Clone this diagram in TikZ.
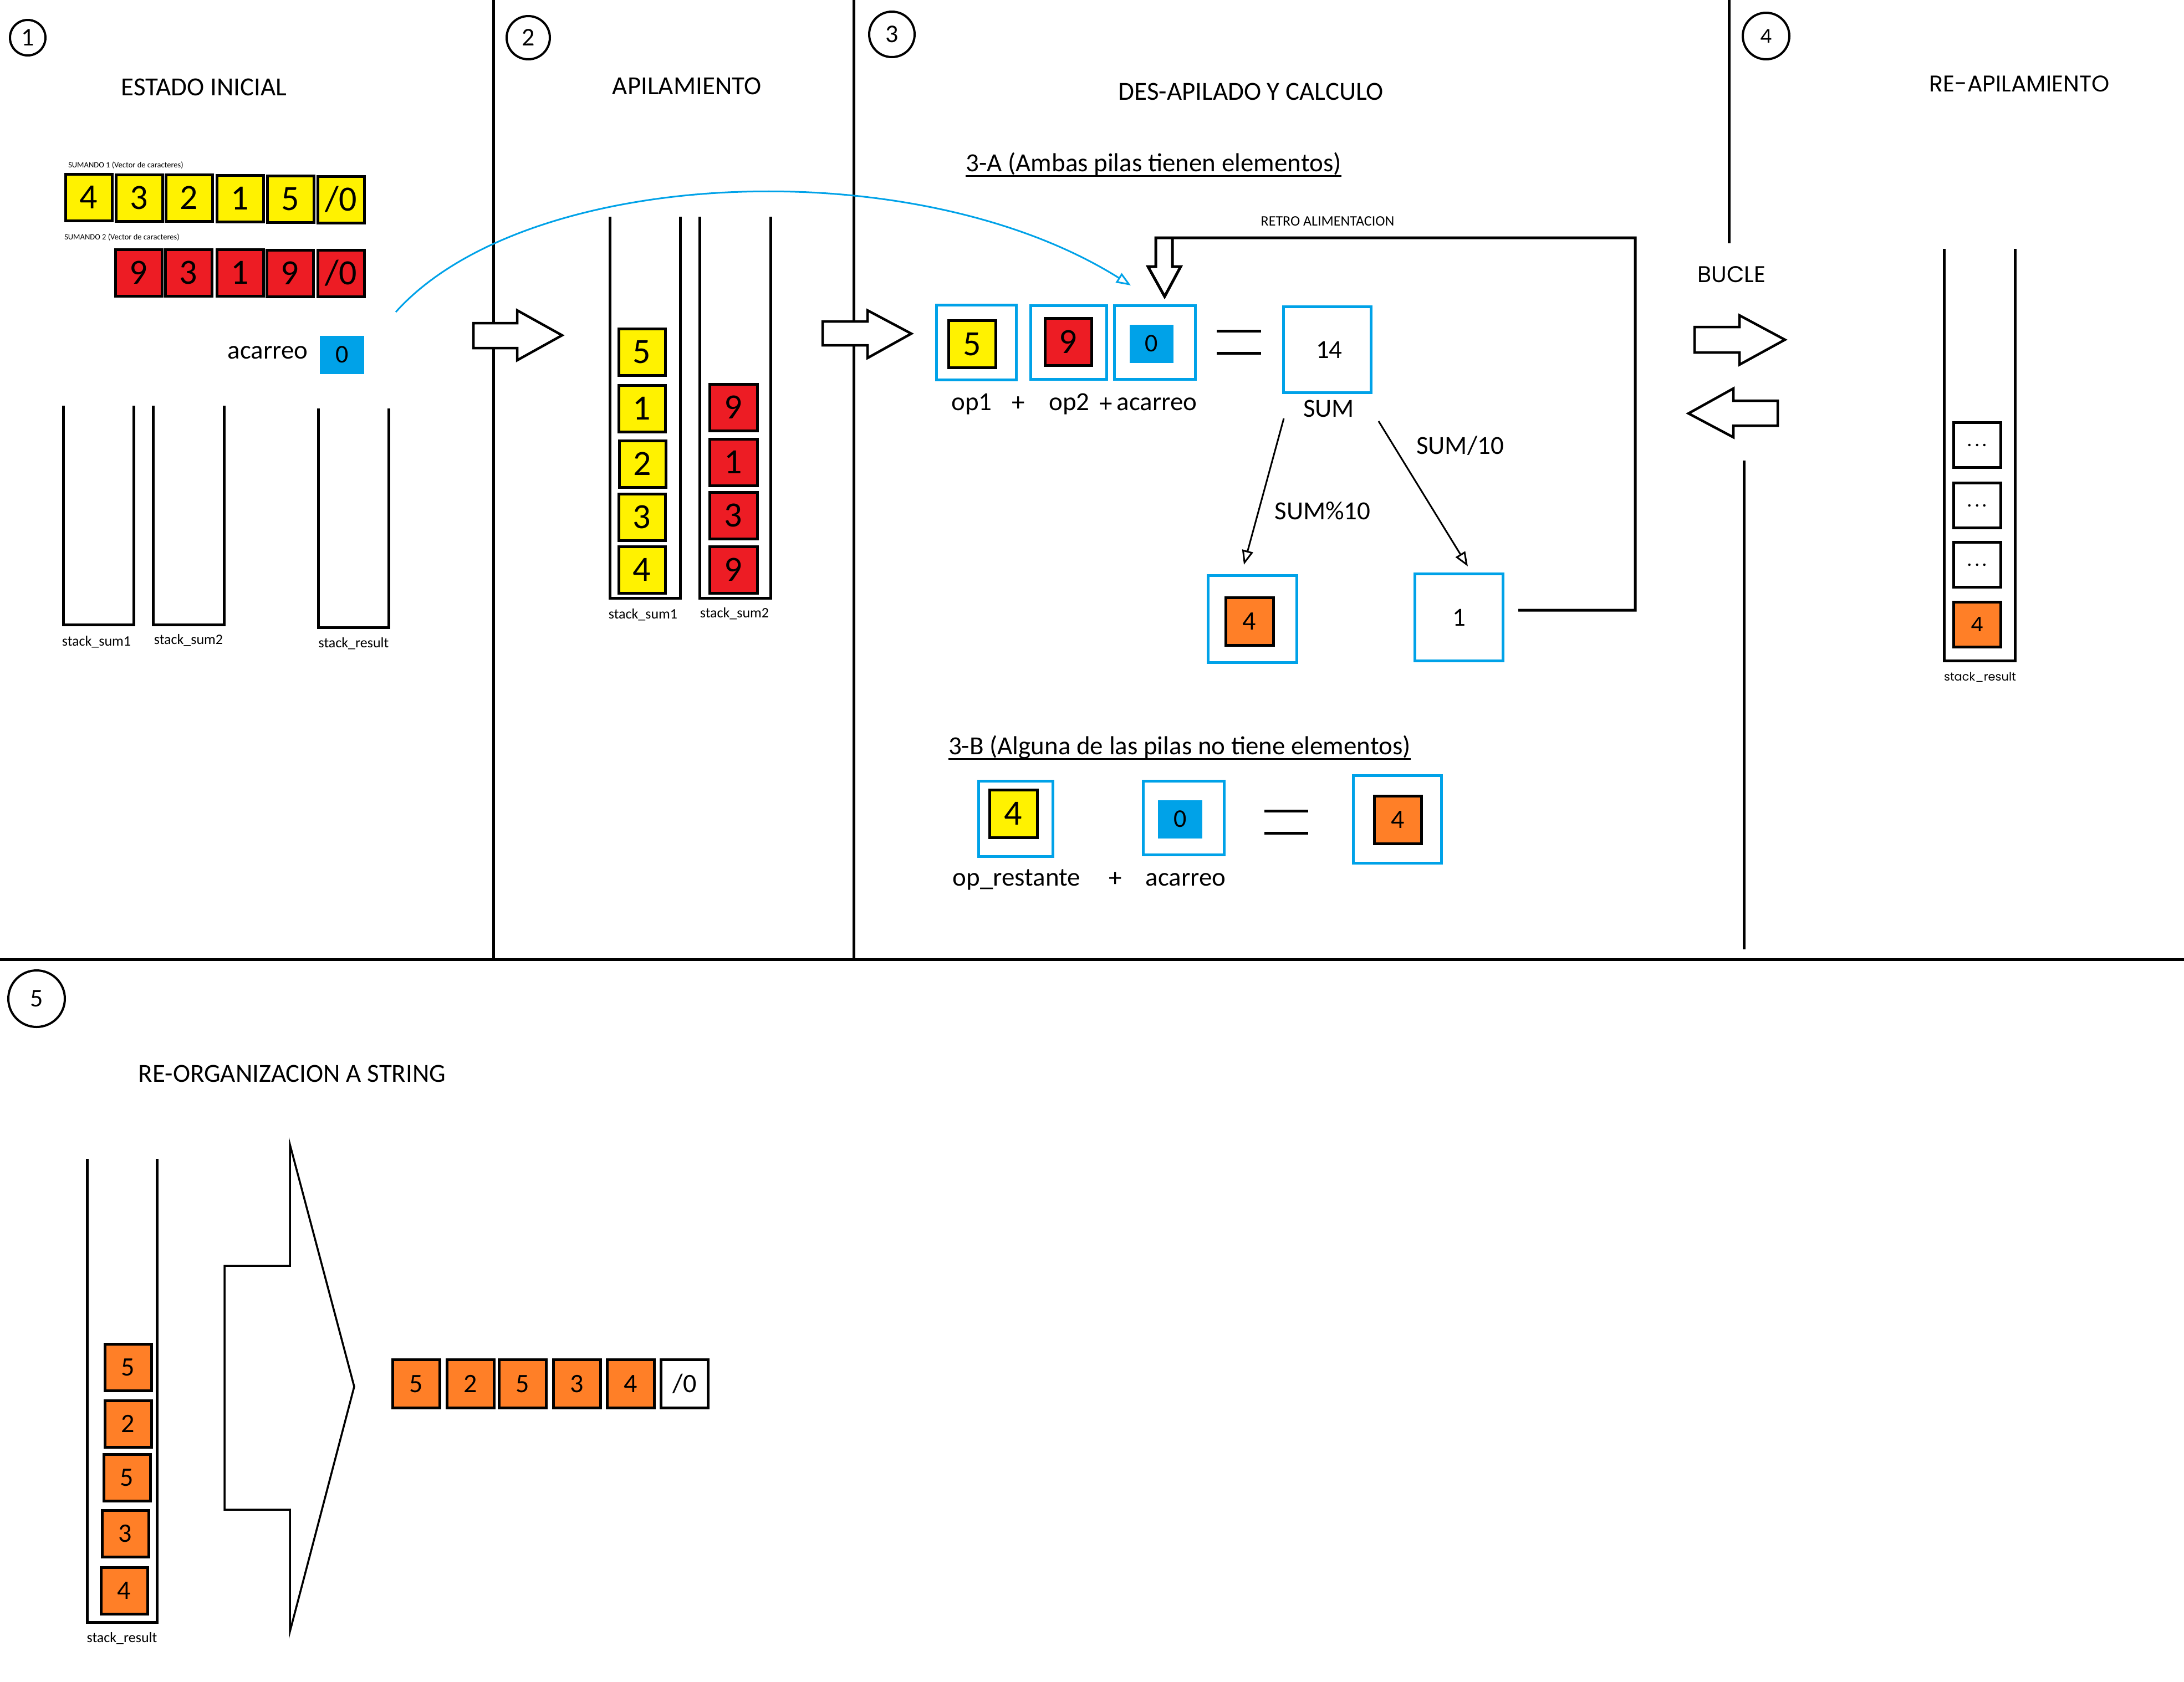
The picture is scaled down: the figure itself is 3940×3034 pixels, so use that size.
\documentclass[tikz,border=0pt]{standalone}
\usepackage{fontspec}
\setmainfont{Carlito}
\newfontfamily\gothic{Poppins}
\usepackage{tikz}
\usetikzlibrary{arrows.meta}

\definecolor{pyellow}{HTML}{FFF200}
\definecolor{pred}{HTML}{ED1C24}
\definecolor{porange}{HTML}{FF7F27}
\definecolor{pblue}{HTML}{00A2E8}

\tikzset{
  txt/.style={inner sep=0pt, font=\fontsize{47}{56}\selectfont},
  lbl/.style={inner sep=0pt, font=\fontsize{26}{30}\selectfont},
  mini/.style={inner sep=0pt, font=\fontsize{14.5}{17}\selectfont},
  gtxt/.style={inner sep=0pt, font=\gothic\fontsize{41}{48}\selectfont},
  num/.style={draw, circle, line width=4pt, inner sep=0pt, font=\fontsize{46}{55}\selectfont},
  cell/.style={draw, line width=5pt, minimum width=84pt, minimum height=84pt, inner sep=0pt, font=\fontsize{48}{56}\selectfont},
  hand/.style={cell, font=\fontsize{64}{74}\selectfont},
  yel/.style={hand, fill=pyellow},
  rd/.style={hand, fill=pred},
  org/.style={cell, fill=porange},
  wht/.style={cell, fill=white},
  carry/.style={fill=pblue, minimum width=80pt, minimum height=69pt, inner sep=0pt, font=\fontsize{46}{55}\selectfont},
  holder/.style={draw=pblue, line width=5pt, inner sep=0pt},
  wall/.style={line width=5pt},
  hollow/.style={draw, fill=white, line width=4.5pt, line join=miter},
  pointer/.style={line width=3pt, -{Triangle[open,length=26pt,width=20pt]}},
  slot/.style={cell, minimum width=85pt, minimum height=81pt, font=\gothic\fontsize{36}{42}\selectfont}
}

\begin{document}
\begin{tikzpicture}[x=1pt, y=-1pt]
  \useasboundingbox (0,0) rectangle (3940,3034);
  \fill[white] (0,0) rectangle (3940,3034);

  \draw[wall] (890,0) -- (890,1731);
  \draw[wall] (1540,0) -- (1540,1731);
  \draw[wall] (3119,0) -- (3119,439);
  \draw[wall] (3146,831) -- (3146,1713);
  \draw[wall] (0,1731) -- (3940,1731);

  \node[num, minimum size=64pt] (n1) at (50,68) {1};
  \node[txt] (t1) at (368,157) {ESTADO INICIAL};
  \node[mini] (v1) at (227,298) {SUMANDO 1 (Vector de caracteres)};
  \node[yel] (a1) at (160,356) {4};
  \node[yel] (a2) at (251,357) {3};
  \node[yel] (a3) at (341,357) {2};
  \node[yel] (a4) at (433,358) {1};
  \node[yel] (a5) at (524,359) {5};
  \node[yel] (a6) at (615,360) {/0};
  \node[mini] (v2) at (220,428) {SUMANDO 2 (Vector de caracteres)};
  \node[rd] (b1) at (250,492) {9};
  \node[rd] (b2) at (340,492) {3};
  \node[rd] (b3) at (433,492) {1};
  \node[rd] (b4) at (523,493) {9};
  \node[rd] (b5) at (615,493) {/0};
  \node[txt] (acl) at (483,636) {acarreo};
  \node[carry] (c0) at (617,640) {0};
  \draw[wall] (114,732) |- (241,1127) -- (241,732);
  \draw[wall] (276,732) |- (404,1127) -- (404,732);
  \draw[wall] (574,737) |- (701,1132) -- (701,737);
  \node[lbl] (s1) at (174,1158) {stack\_sum1};
  \node[lbl] (s2) at (340,1155) {stack\_sum2};
  \node[lbl] (s3) at (638,1161) {stack\_result};

  \draw[hollow] (854,583) -- (933,583) -- (933,560) -- (1014,605) -- (933,650) -- (933,628) -- (854,628) -- cycle;

  \node[num, minimum size=78pt] (n2) at (953,68) {2};
  \node[txt] (t2) at (1239,155) {APILAMIENTO};
  \draw[wall] (1100,391) |- (1227,1079) -- (1227,391);
  \draw[wall] (1262,391) |- (1390,1079) -- (1390,391);
  \node[yel] (p1) at (1158,635) {5};
  \node[yel] (p2) at (1158,737) {1};
  \node[yel] (p3) at (1159,837) {2};
  \node[yel] (p4) at (1158,933) {3};
  \node[yel] (p5) at (1158,1028) {4};
  \node[rd, minimum width=86pt] (q1) at (1323,735) {9};
  \node[rd, minimum width=86pt] (q2) at (1323,834) {1};
  \node[rd, minimum width=86pt] (q3) at (1323,930) {3};
  \node[rd, minimum width=86pt] (q4) at (1323,1028) {9};
  \node[lbl] (s4) at (1160,1109) {stack\_sum1};
  \node[lbl] (s5) at (1325,1107) {stack\_sum2};

  \draw[hollow] (1484,580) -- (1565,580) -- (1565,560) -- (1644,602) -- (1565,646) -- (1565,623) -- (1484,623) -- cycle;

  \node[num, minimum size=82pt] (n3) at (1609,62) {3};
  \node[txt] (t3) at (2257,165) {DES-APILADO Y CALCULO};
  \node[txt] (h3a) at (2081,296) {3-A (Ambas pilas tienen elementos)};
  \draw[line width=3pt] (h3a.south west) -- (h3a.south east);
  \node[lbl] (retro) at (2395,399) {RETRO ALIMENTACION};
  \node[holder, minimum width=144pt, minimum height=135pt] (f1) at (1761,618) {};
  \node[yel, minimum width=85pt, minimum height=85pt] (o1) at (1754,621) {5};
  \node[holder, minimum width=137pt, minimum height=133pt] (f2) at (1928,618) {};
  \node[rd, minimum height=85pt] (o2) at (1927,617) {9};
  \node[holder, minimum width=146pt, minimum height=133pt] (f3) at (2083,618) {};
  \node[carry, minimum width=79pt] (o3) at (2077,620) {0};
  \draw[wall] (2195,597) -- (2275,597);
  \draw[wall] (2195,637) -- (2275,637);
  \node[holder, minimum width=158pt, minimum height=155pt, font=\fontsize{47}{56}\selectfont] (sum) at (2394,631) {\,14};
  \node[txt] (l1) at (1753,729) {op1};
  \node[txt] (l2) at (1837,729) {+};
  \node[txt] (l3) at (1929,729) {op2};
  \node[txt] (l4) at (1995,731) {+};
  \node[txt] (l5) at (2087,729) {acarreo};
  \node[txt] (l6) at (2397,737) {SUM};
  \coordinate (cs) at (714,563);
  \coordinate (ce) at (2040,515);
  \draw[pointer, pblue] (cs) .. controls (950,300) and (1650,270) .. (ce);
  \coordinate (m1) at (2316,755);
  \coordinate (m2) at (2244,1019);
  \coordinate (d1) at (2487,760);
  \coordinate (d2) at (2648,1022);
  \draw[pointer] (m1) -- (m2);
  \draw[pointer] (d1) -- (d2);
  \node[txt] (mod) at (2386,922) {SUM\%10};
  \node[txt] (div) at (2634,804) {SUM/10};
  \node[holder, minimum width=160pt, minimum height=157pt] (f4) at (2259,1117) {};
  \node[org, minimum width=86pt, minimum height=86pt] (r4) at (2254,1121) {4};
  \node[holder, minimum width=159pt, minimum height=157pt, font=\fontsize{47}{56}\selectfont] (r1) at (2632,1114) {1};
  \coordinate (fb) at (2739,1101);
  \draw[wall, line join=miter] (fb) -- (2950,1101) -- (2950,429) -- (2085,429) -- (2085,481) -- (2071,481) -- (2101,535) -- (2130,481) -- (2115,481) -- (2115,429);

  \node[txt] (h3b) at (2128,1348) {3-B (Alguna de las pilas no tiene elementos)};
  \draw[line width=3pt] (h3b.south west) -- (h3b.south east);
  \node[holder, minimum width=134pt, minimum height=136pt] (f5) at (1832,1477) {};
  \node[yel, minimum width=86pt, minimum height=86pt] (o4) at (1828,1468) {4};
  \node[holder, minimum width=146pt, minimum height=133pt] (f6) at (2135,1476) {};
  \node[carry] (o5) at (2129,1478) {0};
  \draw[wall] (2281,1463) -- (2360,1463);
  \draw[wall] (2281,1503) -- (2360,1503);
  \node[holder, minimum width=159pt, minimum height=158pt] (f7) at (2521,1478) {};
  \node[org, minimum width=85pt, minimum height=86pt] (r5) at (2522,1479) {4};
  \node[txt] (l7) at (1834,1587) {op\_restante};
  \node[txt] (l8) at (2012,1587) {+};
  \node[txt] (l9) at (2139,1587) {acarreo};

  \node[num, minimum size=84pt, font=\gothic\fontsize{34}{40}\selectfont] (n4) at (3186,65) {4};
  \node[gtxt] (t4) at (3643,151) {RE-APILAMIENTO};
  \node[gtxt] (loop) at (3124,495) {BUCLE};
  \draw[hollow] (3057,590) -- (3138,590) -- (3138,569) -- (3220,613) -- (3138,658) -- (3138,636) -- (3057,636) -- cycle;
  \draw[hollow] (3207,723) -- (3127,723) -- (3127,701) -- (3046,746) -- (3127,789) -- (3127,768) -- (3207,768) -- cycle;
  \draw[wall] (3507,449) |- (3635,1192) -- (3635,449);
  \node[slot, fill=white] (e1) at (3567,803) {.\,.\,.};
  \node[slot, fill=white] (e2) at (3567,912) {.\,.\,.};
  \node[slot, fill=white] (e3) at (3567,1019) {.\,.\,.};
  \node[slot, fill=porange] (e4) at (3567,1127) {4};
  \node[inner sep=0pt, font=\gothic\fontsize{21}{25}\selectfont] (s6) at (3572,1222) {stack\_result};

  \node[num, minimum size=102pt] (n5) at (66,1802) {5};
  \node[txt] (t5) at (527,1937) {RE-ORGANIZACION A STRING};
  \draw[wall] (157,2091) |- (283,2927) -- (283,2091);
  \node[org] (g1) at (231,2467) {5};
  \node[org] (g2) at (231,2569) {2};
  \node[org] (g3) at (229,2666) {5};
  \node[org] (g4) at (226,2767) {3};
  \node[org] (g5) at (224,2870) {4};
  \node[lbl] (s7) at (220,2956) {stack\_result};
  \draw[hollow, line width=3.5pt] (405,2284) -- (523,2284) -- (523,2065) -- (639,2502) -- (523,2944) -- (523,2724) -- (405,2724) -- cycle;
  \node[org, minimum width=85pt, minimum height=87pt] (k1) at (751,2497) {5};
  \node[org, minimum width=85pt, minimum height=87pt] (k2) at (849,2497) {2};
  \node[org, minimum width=85pt, minimum height=87pt] (k3) at (943,2497) {5};
  \node[org, minimum width=85pt, minimum height=87pt] (k4) at (1041,2497) {3};
  \node[org, minimum width=85pt, minimum height=87pt] (k5) at (1138,2497) {4};
  \node[wht, minimum width=85pt, minimum height=87pt] (k6) at (1235,2497) {/0};
\end{tikzpicture}
\end{document}
